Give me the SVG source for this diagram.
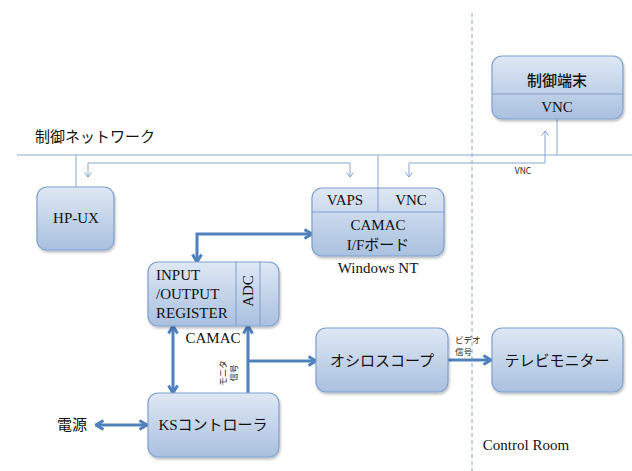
<svg xmlns="http://www.w3.org/2000/svg" width="632" height="471" viewBox="0 0 632 471">
<defs>
<linearGradient id="g" x1="0" y1="0" x2="0" y2="1">
<stop offset="0" stop-color="#dfe8f4"/>
<stop offset="1" stop-color="#a9c0df"/>
</linearGradient>
<filter id="sh" x="-10%" y="-10%" width="125%" height="130%">
<feDropShadow dx="1" dy="2" stdDeviation="1.2" flood-color="#000" flood-opacity="0.25"/>
</filter>
<marker id="ab" markerUnits="userSpaceOnUse" viewBox="0 0 12 12" markerWidth="12" markerHeight="12" refX="10.5" refY="6" orient="auto-start-reverse">
<path d="M3,1.5 L10.5,6 L3,10.5" fill="none" stroke="#4f81bd" stroke-width="3"/>
</marker>
<marker id="at" markerUnits="userSpaceOnUse" viewBox="0 0 6 8" markerWidth="6" markerHeight="8" refX="5.5" refY="4" orient="auto-start-reverse">
<path d="M1,0.5 L5.5,4 L1,7.5" fill="none" stroke="#7f9fcf" stroke-width="1"/>
</marker>
</defs>
<style>
.box{fill:url(#g);stroke:#7f9fcf;stroke-width:1.2;filter:url(#sh)}
.div{stroke:#7f9fcf;stroke-width:1;fill:none}
.thin{stroke:#8aa7d3;stroke-width:1;fill:none}
.bold{stroke:#4f81bd;stroke-width:3;fill:none}
.dash{stroke:#8ea5c8;stroke-width:1;stroke-dasharray:4 3;fill:none}
text{font-family:"Liberation Serif","Noto Sans CJK JP",serif;font-size:15px;fill:#111}
.jp{font-family:"Noto Sans CJK JP","Liberation Sans",sans-serif}
.c{text-anchor:middle}
.sm{font-family:"Noto Sans CJK JP","Liberation Sans",sans-serif;font-size:8.5px;fill:#222}
</style>

<g id="connectors">
<path class="dash" d="M472,13 L472,471"/>
<path class="thin" d="M17,155 L632,155"/>
<path class="thin" d="M76,155 L76,187"/>
<path class="thin" d="M378,155 L378,188"/>
<path class="thin" d="M557,119 L557,155"/>
<path class="thin" d="M88,177 L88,163 L350,163 L350,177" marker-start="url(#at)" marker-end="url(#at)"/>
<path class="thin" d="M409,177 L409,163 L545,163 L545,131" marker-start="url(#at)" marker-end="url(#at)"/>
<path class="bold" d="M197,262 L197,234 L312,234" marker-start="url(#ab)" marker-end="url(#ab)"/>
<path class="bold" d="M173,326 L173,393" marker-start="url(#ab)" marker-end="url(#ab)"/>
<path class="bold" d="M248,393 L248,326" marker-end="url(#ab)"/>
<path class="bold" d="M248,361 L316,361" marker-end="url(#ab)"/>
<path class="bold" d="M448,360 L491,360" marker-end="url(#ab)"/>
<path class="bold" d="M96,425 L147,425" marker-start="url(#ab)" marker-end="url(#ab)"/>
<text class="sm c" x="523" y="174">VNC</text>
<text class="sm" x="455" y="343">ビデオ</text>
<text class="sm" x="455" y="355">信号</text>
<text class="sm c" transform="translate(228,373) rotate(-90)" y="-2">モニタ</text>
<text class="sm c" transform="translate(228,373) rotate(-90)" y="9">信号</text>
</g>

<g id="label-network">
<text class="jp" x="35" y="142">制御ネットワーク</text>
</g>

<g id="hpux">
<rect class="box" x="37" y="187" width="77" height="63" rx="10"/>
<text class="c" x="76" y="223">HP-UX</text>
</g>

<g id="camac-if">
<rect class="box" x="312" y="188" width="132" height="68" rx="10"/>
<path class="div" d="M312,212 L444,212 M378,188 L378,212"/>
<text class="c" x="345" y="205">VAPS</text>
<text class="c" x="411" y="205">VNC</text>
<text class="c" x="378" y="230">CAMAC</text>
<text class="c" x="378" y="250">I/Fボード</text>
<text class="c" x="378" y="273">Windows NT</text>
</g>

<g id="terminal">
<rect class="box" x="492" y="56" width="131" height="63" rx="10"/>
<path class="div" d="M492,94 L623,94"/>
<text class="c jp" x="557" y="86" style="font-weight:500">制御端末</text>
<text class="c" x="557" y="112">VNC</text>
</g>

<g id="io-register">
<rect class="box" x="148" y="262" width="131" height="64" rx="10"/>
<path class="div" d="M236,262 L236,326 M260,262 L260,326"/>
<text x="156" y="280">INPUT</text>
<text x="156" y="299">/OUTPUT</text>
<text x="156" y="318">REGISTER</text>
<text class="c" transform="translate(248,291) rotate(-90)" y="5">ADC</text>
<text class="c" x="213" y="343">CAMAC</text>
</g>

<g id="ks">
<rect class="box" x="148" y="393" width="131" height="64" rx="10"/>
<text class="c" x="213" y="430">KSコントローラ</text>
</g>

<g id="power">
<text class="jp c" x="72" y="430">電源</text>
</g>

<g id="oscilloscope">
<rect class="box" x="316" y="328" width="132" height="64" rx="10"/>
<text class="c jp" x="382" y="366">オシロスコープ</text>
</g>

<g id="tv">
<rect class="box" x="492" y="328" width="131" height="64" rx="10"/>
<text class="c jp" x="557" y="366">テレビモニター</text>
</g>

<g id="room">
<text class="c" x="526" y="450">Control Room</text>
</g>
</svg>
